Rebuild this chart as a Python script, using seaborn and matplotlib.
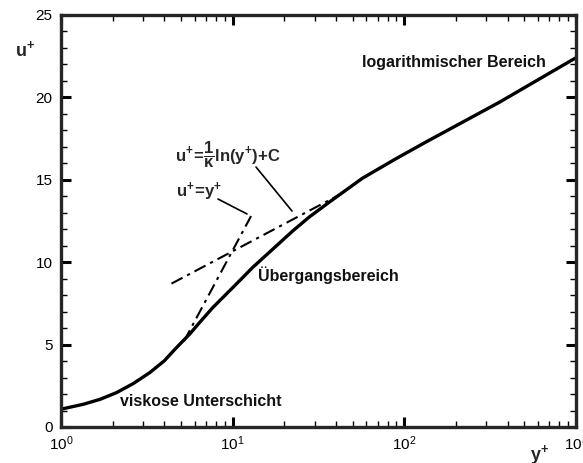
import numpy as np
import pandas as pd
import matplotlib
matplotlib.use("Agg")
import matplotlib.pyplot as plt
import seaborn as sns
from matplotlib.ticker import LogLocator, MultipleLocator, LogFormatterMathtext

# Data
yplus_curve = [1.0, 1.35, 1.69, 2.11, 2.63, 3.29, 4.0, 4.71, 5.62, 6.43, 7.68, 10.04, 13.1, 17.2,
               22.4, 28.0, 36.6, 57.1, 89.4, 134, 357, 945, 1000]
uplus_curve = [1.08, 1.38, 1.68, 2.09, 2.63, 3.30, 4.02, 4.82, 5.64, 6.35, 7.26, 8.47, 9.69, 10.81,
               11.9, 12.75, 13.65, 15.1, 16.28, 17.3, 19.7, 22.26, 22.4]

yplus_lin = [5.2, 12.8]
uplus_lin = [5.2, 12.8]

yplus_log = [4.4, 42.0]
uplus_log = [8.7, 14.1]

sns.set_style("ticks")
plt.rcParams["font.family"] = ["Liberation Sans", "DejaVu Sans"]
plt.rcParams["mathtext.fontset"] = "custom"
plt.rcParams["mathtext.rm"] = "Liberation Sans"
plt.rcParams["mathtext.bf"] = "Liberation Sans:bold"
plt.rcParams["mathtext.it"] = "Liberation Sans:italic"

fig = plt.figure(figsize=(5.83, 4.63), dpi=100)
ax = fig.add_axes([61/583, 1-427/463, (576-61)/583, (427-15)/463])

df = pd.DataFrame({"y": yplus_curve, "u": uplus_curve})
sns.lineplot(data=df, x="y", y="u", ax=ax, color="black", linewidth=2.4, sort=False)
dashdot = (0, (6, 2.5, 1.5, 2.5))
sns.lineplot(x=yplus_lin, y=uplus_lin, ax=ax, color="black", linewidth=1.5, linestyle=dashdot)
sns.lineplot(x=yplus_log, y=uplus_log, ax=ax, color="black", linewidth=1.5, linestyle=dashdot)

ax.set_xscale("log")
ax.set_xlim(1, 1000)
ax.set_ylim(0, 25)
ax.xaxis.set_major_locator(LogLocator(base=10, numticks=10))
ax.xaxis.set_minor_locator(LogLocator(base=10, subs=np.arange(2, 10), numticks=100))
ax.xaxis.set_major_formatter(LogFormatterMathtext())
ax.yaxis.set_major_locator(MultipleLocator(5))
ax.yaxis.set_minor_locator(MultipleLocator(1))
ax.set_xlabel("")
ax.set_ylabel("")

for s in ax.spines.values():
    s.set_linewidth(2.4)
    s.set_visible(True)
ax.tick_params(which="both", direction="in", top=True, right=True, labelsize=11, colors="black")
ax.tick_params(which="major", length=7, width=2.2)
ax.tick_params(which="minor", length=4, width=1.0)
ax.tick_params(axis="y", which="major", pad=6)
ax.tick_params(axis="x", which="major", pad=5)

bold = dict(fontsize=11.5, fontweight="bold", color="#111111")
fig.text(15/583, 1-50/463, r"$\mathbf{u^{+}}$", fontsize=13, va="center", ha="left")
fig.text(540/583, 1-455/463, r"$\mathbf{y^{+}}$", fontsize=13, va="center", ha="center")
fig.text(120/583, 1-402/463, "viskose Unterschicht", va="center", ha="left", **bold)
fig.text(258/583, 1-275/463, "Übergangsbereich", va="center", ha="left", **bold)
fig.text(362/583, 1-63/463, "logarithmischer Bereich", va="center", ha="left", **bold)
fig.text(176/583, 1-192/463, r"$\mathbf{u^{+}\!=\!y^{+}}$", fontsize=12, va="center", ha="left")
fig.text(175/583, 1-155/463, r"$\mathbf{u^{+}\!=\!\dfrac{1}{\kappa}ln(y^{+})\!+\!C}$", fontsize=12, va="center", ha="left")

fig.add_artist(plt.Line2D([218/583, 247/583], [1-199/463, 1-214/463], color="black", lw=1.2))
fig.add_artist(plt.Line2D([256/583, 292/583], [1-167/463, 1-211/463], color="black", lw=1.2))

fig.savefig("out.png", dpi=100)
